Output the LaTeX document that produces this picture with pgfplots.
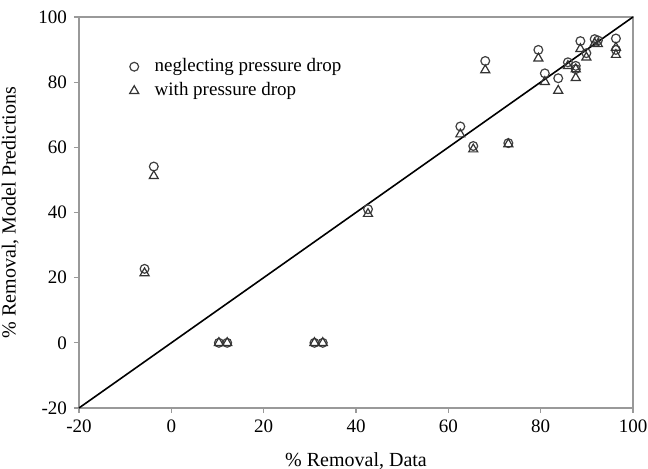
\documentclass[border=0pt]{standalone}
\usepackage{fontspec}
\setmainfont{Liberation Serif}
\usepackage{pgfplots}
\pgfplotsset{compat=1.18}
\begin{document}
\begin{tikzpicture}
\useasboundingbox (-39.5pt,-30.5pt) rectangle (284.5pt,204pt);
\begin{axis}[
  at={(0,0)}, anchor=south west,
  scale only axis, width=277pt, height=195.5pt,
  xmin=-20, xmax=100, ymin=-20, ymax=100,
  xtick={-20,0,20,40,60,80,100}, ytick={-20,0,20,40,60,80,100},
  xtick pos=bottom, ytick pos=left,
  /pgf/number format/assume math mode=true,
  tick label style={font=\fontsize{9.5}{10}\selectfont},
  tick align=outside, major tick length=2.5pt,
  axis line style={draw=gray!80, line width=0.8pt},
  every tick/.style={gray!80, line width=0.6pt},
  xlabel={\% Removal, Data},
  ylabel={\% Removal, Model Predictions},
  label style={font=\fontsize{10}{12}\selectfont},
  xlabel style={yshift=-3pt},
  ylabel style={yshift=3pt},
  legend style={draw=none, fill=none, at={(0.08,0.915)}, anchor=north west, font=\fontsize{9.5}{10}\selectfont, row sep=0pt,
    /tikz/every odd column/.append style={column sep=6pt}},
  legend cell align=left,
  clip=false,
]
\addplot[only marks, mark=o, mark size=2.2pt, mark options={draw=black!75, line width=0.6pt}] coordinates {
(-5.8,22.7) (-3.8,54.1) (10.3,0) (12.1,0) (31.0,0) (32.8,0)
(42.6,41.0) (62.6,66.4) (65.4,60.4) (73.0,61.3) (68.0,86.5)
(79.5,89.9) (80.9,82.7) (83.8,81.2) (85.9,86.1) (87.6,85.0) (87.6,84.0)
(88.6,92.6) (89.9,88.9) (91.7,93.2) (92.4,92.8) (96.3,93.4) (96.3,89.9)
};
\addlegendentry{neglecting pressure drop}
\addplot[only marks, mark=triangle, mark size=2.6pt, mark options={draw=black!80, line width=0.6pt}] coordinates {
(-5.8,21.4) (-3.8,51.2) (10.3,0) (12.1,0) (31.0,0) (32.8,0)
(42.6,39.6) (62.6,64.0) (65.4,59.4) (73.0,61.0) (68.0,83.7)
(79.5,87.3) (80.9,80.1) (83.8,77.4) (85.9,85.0) (87.6,84.0) (87.6,81.3)
(88.6,90.2) (89.9,87.6) (91.7,91.9) (92.4,91.7) (96.3,90.6) (96.3,88.4)
};
\addlegendentry{with pressure drop}
\addplot[black, line width=0.8pt, no marks, forget plot] coordinates {(-20,-20) (100,100)};
\end{axis}
\end{tikzpicture}
\end{document}
